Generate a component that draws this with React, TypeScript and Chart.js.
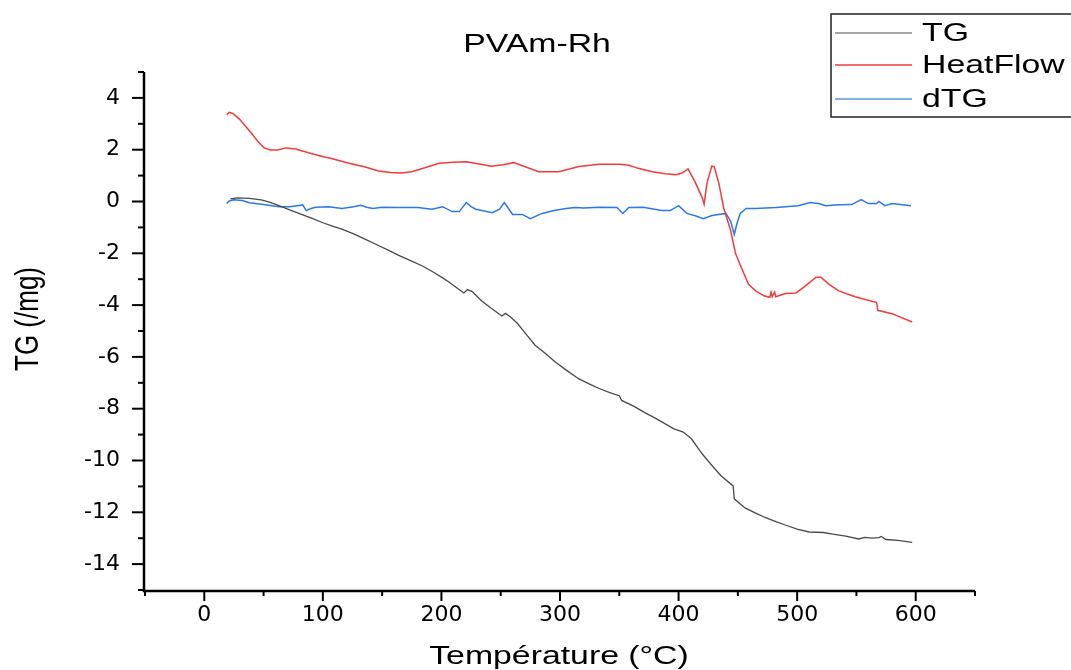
import React, { useEffect, useRef } from "react";
import { Chart, registerables } from "chart.js";

Chart.register(...registerables);

const chartTitle = "PVAm-Rh";
const xAxisTitle = "Température (°C)";
const yAxisTitle = "TG (/mg)";
const seriesNames = ["TG", "HeatFlow", "dTG"];
const seriesColors = ["#4a4a4a", "#f03c3c", "#2d78e6"];
const legendColors = ["#8a8a8a", "#f03c3c", "#5a96e6"];

const tgTemp = [22, 28, 38, 48, 55, 62, 72, 82, 91, 100, 108, 116, 126, 136, 146, 156, 164, 174, 184, 193, 201, 206, 212, 219, 222, 226, 234, 242, 251, 254, 258, 264, 271, 279, 288, 296, 305, 316, 325, 333, 342, 350, 352, 362, 372, 383, 396, 404, 411, 420, 430, 436, 446, 447, 456, 465, 473, 482, 490, 500, 510, 522, 530, 541, 552, 557, 563, 569, 571, 575, 585, 597];
const tgValues = [0.1, 0.14, 0.12, 0.06, -0.02, -0.14, -0.32, -0.5, -0.65, -0.82, -0.95, -1.07, -1.25, -1.46, -1.68, -1.9, -2.08, -2.28, -2.49, -2.72, -2.95, -3.1, -3.3, -3.53, -3.4, -3.48, -3.84, -4.12, -4.42, -4.32, -4.45, -4.7, -5.1, -5.55, -5.88, -6.2, -6.5, -6.85, -7.05, -7.22, -7.38, -7.5, -7.68, -7.9, -8.16, -8.43, -8.78, -8.9, -9.17, -9.75, -10.29, -10.6, -10.98, -11.48, -11.83, -12.03, -12.2, -12.36, -12.49, -12.65, -12.76, -12.78, -12.84, -12.92, -13.03, -12.97, -13.0, -12.98, -12.93, -13.05, -13.08, -13.16];

const hfTemp = [19, 21, 24, 29.5, 35, 40.5, 45, 50.5, 56, 62, 69, 77, 88, 98, 108, 122, 135, 147, 157, 166, 175, 186, 198, 210, 221, 232, 242, 252, 261, 270, 282, 299, 316, 333, 350, 358, 366, 378, 389, 398, 403, 408, 414, 420, 421.5, 424, 428, 430, 434, 438, 444, 448, 453, 459, 465, 472, 477, 478, 479, 481, 482, 490, 499, 507, 516, 520, 527, 535, 549, 567, 568, 580, 597];
const hfValues = [3.35, 3.44, 3.4, 3.19, 2.9, 2.6, 2.33, 2.07, 1.99, 1.99, 2.07, 2.03, 1.88, 1.76, 1.65, 1.48, 1.34, 1.18, 1.12, 1.1, 1.15, 1.3, 1.48, 1.52, 1.53, 1.45, 1.36, 1.42, 1.5, 1.35, 1.15, 1.15, 1.35, 1.44, 1.44, 1.4, 1.28, 1.15, 1.07, 1.03, 1.1, 1.26, 0.75, 0.14, -0.1, 0.72, 1.37, 1.35, 0.7, -0.25, -1.13, -2.0, -2.56, -3.2, -3.45, -3.64, -3.7, -3.5, -3.68, -3.5, -3.68, -3.55, -3.53, -3.26, -2.92, -2.92, -3.2, -3.45, -3.68, -3.9, -4.2, -4.33, -4.65];

const dtgTemp = [19, 21, 25, 32, 38, 50, 63, 72, 80, 83, 86, 90, 94, 105, 116, 126, 132, 137, 142, 150, 164, 180, 192, 201, 209, 215, 221, 225, 229, 243, 249, 253, 257, 260, 268, 275, 285, 295, 305, 313, 320, 333, 348, 353, 358, 370, 386, 393, 400, 407, 414, 421, 428, 440, 444, 447, 449, 452, 457, 465, 482, 501, 511, 518, 524, 535, 546, 554, 560, 567, 569, 574, 580, 596];
const dtgValues = [-0.08, 0.02, 0.07, 0.04, -0.05, -0.12, -0.2, -0.2, -0.15, -0.13, -0.35, -0.27, -0.22, -0.2, -0.27, -0.2, -0.15, -0.22, -0.27, -0.22, -0.23, -0.23, -0.3, -0.2, -0.39, -0.39, -0.04, -0.2, -0.3, -0.43, -0.3, -0.04, -0.3, -0.5, -0.5, -0.66, -0.46, -0.35, -0.27, -0.23, -0.25, -0.22, -0.23, -0.46, -0.23, -0.22, -0.35, -0.35, -0.16, -0.46, -0.55, -0.66, -0.54, -0.46, -0.77, -1.27, -0.89, -0.46, -0.27, -0.27, -0.23, -0.16, -0.04, -0.08, -0.16, -0.13, -0.12, 0.07, -0.08, -0.08, 0.0, -0.16, -0.08, -0.16];

const xMin = -50, xMax = 650, xStep = 50, xLabelStep = 100;
const yMin = -15, yMax = 5, yStep = 1, yLabelStep = 2;

const SANS = "'Liberation Sans', Arial, sans-serif";
const STRETCH = 1.3;

function stretchedText(ctx: CanvasRenderingContext2D, text: string, x: number, y: number, align: CanvasTextAlign) {
  ctx.save();
  ctx.translate(x, y);
  ctx.scale(STRETCH, 1);
  ctx.textAlign = align;
  ctx.fillText(text, 0, 0);
  ctx.restore();
}

const decorPlugin = {
  id: "decor",
  afterDraw(chart: any) {
    const ctx: CanvasRenderingContext2D = chart.ctx;
    const xs = chart.scales.x;
    const ys = chart.scales.y;
    const area = chart.chartArea;
    ctx.save();
    ctx.strokeStyle = "#000";
    ctx.fillStyle = "#000";
    ctx.lineWidth = 2.5;
    ctx.beginPath();
    ctx.moveTo(area.left - 1, area.top);
    ctx.lineTo(area.left - 1, area.bottom + 1);
    ctx.lineTo(area.right, area.bottom + 1);
    ctx.stroke();
    ctx.lineWidth = 2;
    xs.ticks.forEach((t: any) => {
      const px = xs.getPixelForValue(t.value);
      const major = t.value % xLabelStep === 0;
      ctx.beginPath();
      ctx.moveTo(px, area.bottom + 1);
      ctx.lineTo(px, area.bottom + 1 + (major ? 10 : 5));
      ctx.stroke();
    });
    ys.ticks.forEach((t: any) => {
      const py = ys.getPixelForValue(t.value);
      const major = t.value % yLabelStep === 0;
      ctx.beginPath();
      ctx.moveTo(area.left - 1, py);
      ctx.lineTo(area.left - 1 - (major ? 12 : 6), py);
      ctx.stroke();
    });
    ctx.font = `26px ${SANS}`;
    ctx.textBaseline = "alphabetic";
    stretchedText(ctx, chartTitle, 537, 52, "center");
    stretchedText(ctx, xAxisTitle, 559, 664, "center");
    ctx.save();
    ctx.translate(38, 319);
    ctx.scale(STRETCH, 1);
    ctx.rotate(-Math.PI / 2);
    ctx.textAlign = "center";
    ctx.fillText(yAxisTitle, 0, 0);
    ctx.restore();
    ctx.lineWidth = 1.5;
    ctx.strokeStyle = "#222";
    ctx.strokeRect(831, 14, 260, 103);
    const rows = [33, 65, 99];
    ctx.font = `26px ${SANS}`;
    ctx.textBaseline = "middle";
    seriesNames.forEach((name, i) => {
      ctx.strokeStyle = legendColors[i];
      ctx.lineWidth = 1.5;
      ctx.beginPath();
      ctx.moveTo(835, rows[i]);
      ctx.lineTo(912, rows[i]);
      ctx.stroke();
      ctx.fillStyle = "#000";
      stretchedText(ctx, name, 922, rows[i] + 1, "left");
    });
    ctx.restore();
  },
};

export default function App() {
  const ref = useRef<HTMLCanvasElement | null>(null);
  useEffect(() => {
    if (!ref.current) return;
    const mk = (ts: number[], vs: number[]) => ts.map((t, i) => ({ x: t, y: vs[i] }));
    const chart = new Chart(ref.current, {
      type: "line",
      data: {
        datasets: [
          { label: seriesNames[0], data: mk(tgTemp, tgValues), borderColor: seriesColors[0], borderWidth: 1.3, pointRadius: 0, tension: 0 },
          { label: seriesNames[1], data: mk(hfTemp, hfValues), borderColor: seriesColors[1], borderWidth: 1.5, pointRadius: 0, tension: 0 },
          { label: seriesNames[2], data: mk(dtgTemp, dtgValues), borderColor: seriesColors[2], borderWidth: 1.5, pointRadius: 0, tension: 0 },
        ],
      },
      options: {
        responsive: false,
        animation: false,
        layout: { padding: { top: 72, right: 96, left: 0, bottom: 0 } },
        plugins: { legend: { display: false }, title: { display: false }, tooltip: { enabled: false } },
        scales: {
          x: {
            type: "linear",
            min: xMin,
            max: xMax,
            grid: { display: false, drawTicks: false },
            border: { display: false },
            ticks: {
              stepSize: xStep,
              autoSkip: false,
              maxRotation: 0,
              padding: 12,
              color: "#000",
              font: { family: "'DejaVu Sans', sans-serif", size: 22 },
              callback: (v: any) => (v % xLabelStep === 0 && v > xMin && v < xMax ? String(v) : ""),
            },
            afterFit: (s: any) => { s.height = 80; },
          },
          y: {
            type: "linear",
            min: yMin,
            max: yMax,
            grid: { display: false, drawTicks: false },
            border: { display: false },
            ticks: {
              stepSize: yStep,
              autoSkip: false,
              padding: 25,
              color: "#000",
              font: { family: "'DejaVu Sans', sans-serif", size: 22 },
              callback: (v: any) => (v % yLabelStep === 0 && v > yMin && v < yMax ? String(v) : ""),
            },
            afterFit: (s: any) => { s.width = 145; },
          },
        },
      },
      plugins: [decorPlugin],
    });
    return () => chart.destroy();
  }, []);
  return (
    <div style={{ position: "fixed", left: 0, top: 0, width: 1071, height: 670, background: "#fff" }}>
      <canvas ref={ref} width={1071} height={670} style={{ display: "block" }} />
    </div>
  );
}
